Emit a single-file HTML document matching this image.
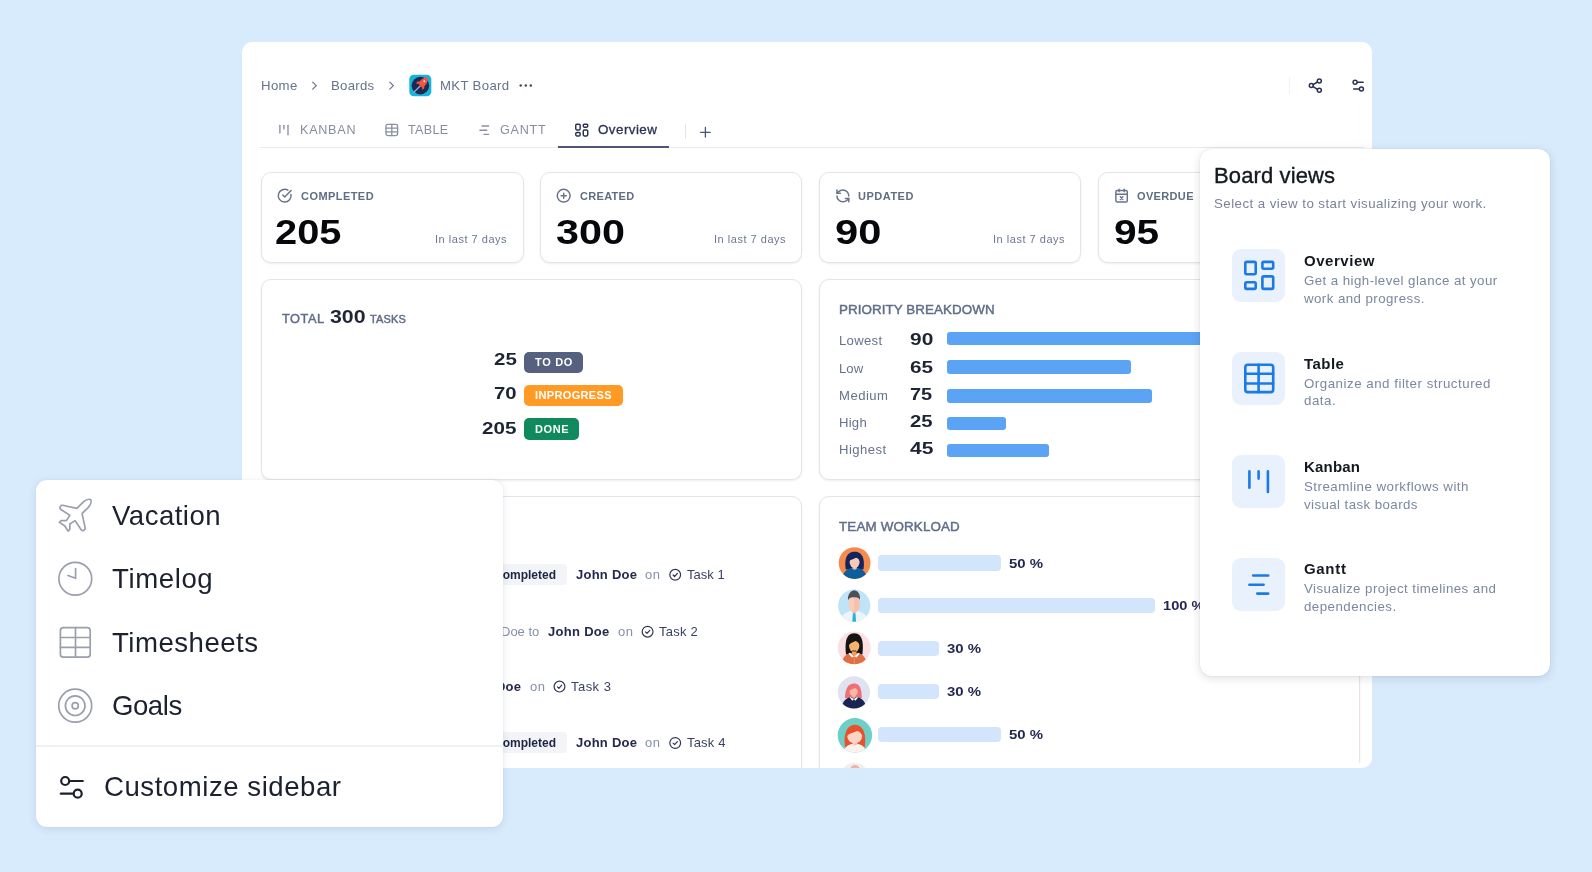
<!DOCTYPE html>
<html><head><meta charset="utf-8"><title>Board overview</title>
<style>
*{box-sizing:border-box;margin:0;padding:0}
html,body{width:1592px;height:872px;overflow:hidden}
body{background:#d8ebfd;font-family:"Liberation Sans",sans-serif;position:relative}
.t{position:absolute;white-space:nowrap;line-height:1;display:block;will-change:transform}
.abs{position:absolute}
#main{position:absolute;left:242px;top:42px;width:1130px;height:726px;background:#fff;border-radius:10px;overflow:hidden}
#main .in{position:absolute;left:-242px;top:-42px;width:1592px;height:872px}
.card{position:absolute;background:#fff;border:1px solid #e3e5e8;border-radius:10px;box-shadow:0 1px 2px rgba(20,25,35,.08)}
svg{position:absolute;overflow:visible}
.tile{left:1232.2px;width:53.1px;height:53px;border-radius:9px;background:#e8f1fc}
.pb{background:#5ba3f4;border-radius:3px}
.wb{background:#d3e5fc;border-radius:4px}
</style></head><body>
<div id="main"><div class="in">
<!-- header / tabs -->
<div class="abs" style="left:260px;top:147px;width:1104px;height:1px;background:#e9eaec"></div>
<div class="abs" style="left:558px;top:146px;width:111px;height:2px;background:#4a5578"></div>
<div class="abs" style="left:685px;top:124px;width:1px;height:15px;background:#e2e6ec"></div>
<div class="abs" style="left:1289px;top:77px;width:1px;height:17px;background:#f0f1f3"></div>
<!-- stat cards -->
<div class="card" style="left:261px;top:172px;width:262.5px;height:91px"></div>
<div class="card" style="left:539.7px;top:172px;width:262.5px;height:91px"></div>
<div class="card" style="left:818.7px;top:172px;width:262.5px;height:91px"></div>
<div class="card" style="left:1097.7px;top:172px;width:262.5px;height:91px"></div>
<svg width="1592" height="872" viewBox="0 0 1592 872" style="left:0;top:0" fill="none" stroke-linecap="round" stroke-linejoin="round">
<!-- breadcrumb chevrons -->
<path d="M312.7 82.1 L316.3 85.6 L312.7 89.1" stroke="#6b7890" stroke-width="1.3"/>
<path d="M389.8 82.1 L393.4 85.6 L389.8 89.1" stroke="#6b7890" stroke-width="1.3"/>
<!-- MKT icon -->
<rect x="409.3" y="74.7" width="22" height="21.6" rx="4.6" fill="#17b4d9"/>
<circle cx="420.4" cy="85.6" r="8.8" fill="#1b2a55"/>
<path d="M414 92.2 L420.2 86" stroke="#a9b4d4" stroke-width="1.2"/>
<path d="M427.6 77.6 C424.6 77.4 421.6 78.8 419.6 81.4 L417.4 81.6 L416 83.6 L418.4 83.8 L422 87.4 L422.2 89.8 L424.2 88.4 L424.4 86.2 C427 84.2 428.2 81 427.6 77.6 Z" fill="#ef5440"/>
<circle cx="424.3" cy="81.2" r="1" fill="#ffd9cf"/>
<!-- dots -->
<circle cx="520.7" cy="85.5" r="1.2" fill="#3b4460"/><circle cx="525.8" cy="85.5" r="1.2" fill="#3b4460"/><circle cx="530.8" cy="85.5" r="1.2" fill="#3b4460"/>
<!-- kanban tab icon -->
<g stroke="#8690a2" stroke-width="1.35"><path d="M279.9 125.3V133"/><path d="M283.9 125.3V129"/><path d="M288 125.3V134.7"/></g>
<!-- table tab icon -->
<g stroke="#8690a2" stroke-width="1.3"><rect x="386" y="124.4" width="11.6" height="11.2" rx="1.8"/><path d="M391.8 124.4V135.6M386 128.2H397.6M386 131.9H397.6"/></g>
<!-- gantt tab icon -->
<g stroke="#8690a2" stroke-width="1.35"><path d="M482 126H488.6"/><path d="M479.9 130.2H486.8"/><path d="M484 134.3H488.6"/></g>
<!-- overview tab icon -->
<g stroke="#2a3254" stroke-width="1.45"><rect x="575.75" y="124.15" width="4.4" height="5.8" rx="1.1"/><rect x="583.25" y="124.15" width="4.5" height="3" rx="1.1"/><rect x="575.75" y="132.55" width="4.4" height="3.4" rx="1.1"/><rect x="583.25" y="130.05" width="4.5" height="5.9" rx="1.1"/></g>
<!-- plus -->
<path d="M700.6 132.3H710.2M705.4 127.5V137.1" stroke="#4a5578" stroke-width="1.3"/>
<!-- share -->
<g stroke="#2a3254" stroke-width="1.5"><circle cx="1319.3" cy="81" r="2"/><circle cx="1311.3" cy="85.6" r="2"/><circle cx="1319.3" cy="90.3" r="2"/><path d="M1313.1 84.6L1317.5 82M1313.1 86.6L1317.5 89.3"/></g>
<!-- sliders -->
<g stroke="#2a3254" stroke-width="1.5"><circle cx="1355.1" cy="82.3" r="2"/><path d="M1357.6 82.3H1363.1"/><circle cx="1361.4" cy="89.1" r="2"/><path d="M1353.6 89.1H1358.9"/></g>
</svg>
<!-- stat icons -->
<svg width="15.4" height="15.4" viewBox="0 0 24 24" style="left:277.4px;top:188.2px" fill="none" stroke="#68738a" stroke-width="2.3" stroke-linecap="round" stroke-linejoin="round"><path d="M21.801 10A10 10 0 1 1 17 3.335"/><path d="m9 11 3 3L22 4"/></svg>
<svg width="15.4" height="15.4" viewBox="0 0 24 24" style="left:556px;top:188.1px" fill="none" stroke="#68738a" stroke-width="2.3" stroke-linecap="round" stroke-linejoin="round"><circle cx="12" cy="12" r="10"/><path d="M8 12h8M12 8v8"/></svg>
<svg width="15.8" height="15.8" viewBox="0 0 24 24" style="left:834.7px;top:187.9px" fill="none" stroke="#68738a" stroke-width="2.3" stroke-linecap="round" stroke-linejoin="round"><path d="M21 12a9 9 0 0 0-9-9 9.75 9.75 0 0 0-6.74 2.74L3 8"/><path d="M3 3v5h5"/><path d="M3 12a9 9 0 0 0 9 9 9.75 9.75 0 0 0 6.74-2.74L21 16"/><path d="M16 16h5v5"/></svg>
<svg width="15.2" height="15.2" viewBox="0 0 24 24" style="left:1113.85px;top:188.3px" fill="none" stroke="#68738a" stroke-width="2.3" stroke-linecap="round" stroke-linejoin="round"><path d="M8 2v4M16 2v4"/><rect x="3" y="4" width="18" height="18" rx="2"/><path d="M3 10h18M14 14l-4 4M10 14l4 4"/></svg>
<!-- lower cards -->
<div class="card" style="left:261px;top:279.3px;width:541.3px;height:200.4px"></div>
<div class="card" style="left:818.7px;top:279.3px;width:541.5px;height:201px"></div>
<div class="card" style="left:261px;top:496px;width:541.3px;height:300px"></div>
<div class="card" style="left:818.7px;top:496px;width:541.5px;height:300px"></div>
<div class="abs" style="left:1358px;top:761px;width:4px;height:8px;background:linear-gradient(rgba(255,255,255,0),#fff 40%)"></div>
<!-- status badges -->
<div class="abs" style="left:523.8px;top:351.8px;width:59.4px;height:21.2px;border-radius:5px;background:#56617f"></div>
<div class="abs" style="left:523.8px;top:385px;width:98.8px;height:21.2px;border-radius:5px;background:#ff9a24"></div>
<div class="abs" style="left:523.8px;top:418.2px;width:55.6px;height:21.4px;border-radius:5px;background:#0e8a5c"></div>
<!-- priority bars -->
<div class="abs pb" style="left:947px;top:331.5px;width:300px;height:13.7px"></div>
<div class="abs pb" style="left:947px;top:360px;width:183.6px;height:13.7px"></div>
<div class="abs pb" style="left:947px;top:389.2px;width:205.3px;height:13.6px"></div>
<div class="abs pb" style="left:947px;top:416.7px;width:58.6px;height:13.6px"></div>
<div class="abs pb" style="left:947px;top:443.7px;width:101.9px;height:13.6px"></div>
<!-- workload bars -->
<div class="abs wb" style="left:878px;top:555px;width:123px;height:15.6px"></div>
<div class="abs wb" style="left:878px;top:598.3px;width:276.7px;height:15px"></div>
<div class="abs wb" style="left:878px;top:641.3px;width:60.5px;height:15px"></div>
<div class="abs wb" style="left:878px;top:684.2px;width:60.5px;height:15px"></div>
<div class="abs wb" style="left:878px;top:727px;width:123px;height:15.2px"></div>
<!-- activity badges -->
<div class="abs" style="left:470px;top:564px;width:96.6px;height:20.8px;border-radius:4px;background:#f2f4f7"></div>
<div class="abs" style="left:470px;top:732px;width:96.6px;height:21.2px;border-radius:4px;background:#f2f4f7"></div>
<svg width="1592" height="872" viewBox="0 0 1592 872" style="left:0;top:0" fill="none" stroke="#2f3757" stroke-width="1.2" stroke-linecap="round" stroke-linejoin="round">
<g transform="translate(675.2 574.8)"><circle cx="0" cy="0" r="5.4"/><path d="M-2.1 0.2L-0.6 1.7L2.2 -1.4"/></g><g transform="translate(647.6 631.7)"><circle cx="0" cy="0" r="5.4"/><path d="M-2.1 0.2L-0.6 1.7L2.2 -1.4"/></g><g transform="translate(559.5 686.6)"><circle cx="0" cy="0" r="5.4"/><path d="M-2.1 0.2L-0.6 1.7L2.2 -1.4"/></g><g transform="translate(675.2 743)"><circle cx="0" cy="0" r="5.4"/><path d="M-2.1 0.2L-0.6 1.7L2.2 -1.4"/></g>
</svg>
<svg width="1592" height="872" viewBox="0 0 1592 872" style="left:0;top:0">
<defs>
<clipPath id="c1"><circle cx="854.6" cy="563.1" r="15.9"/></clipPath>
<clipPath id="c2"><circle cx="854.2" cy="605.7" r="16.1"/></clipPath>
<clipPath id="c3"><circle cx="854.2" cy="647.8" r="16.4"/></clipPath>
<clipPath id="c4"><circle cx="853.9" cy="692.3" r="16.1"/></clipPath>
<clipPath id="c5"><circle cx="854.9" cy="735.3" r="17.2"/></clipPath>
<clipPath id="c6"><circle cx="854.6" cy="777" r="14.2"/></clipPath>
</defs>
<!-- avatar 1 -->
<g clip-path="url(#c1)"><rect x="838" y="547" width="34" height="34" fill="#f58c4e"/>
<g transform="translate(854.6 563.1)">
<path d="M-8.8 6.4 C-10 -1 -9.6 -11.4 0 -11.4 C9.6 -11.4 10 -1 8.8 6.4 Z" fill="#15255c"/>
<path d="M-12.4 17 C-12.4 8.5 -7 5.4 -3 4.8 L3 4.8 C7 5.4 12.4 8.5 12.4 17 Z" fill="#0e5e9b"/>
<path d="M-2.2 1.5 H2.2 V5.4 C1 7 -1 7 -2.2 5.4 Z" fill="#f3b9a3"/>
<ellipse cx="0" cy="-1" rx="5" ry="5.9" fill="#f9cab8"/>
<path d="M-5.6 -1.6 C-5.6 -7.6 -1.5 -8.4 1.2 -7.4 C4 -8 5.8 -5.6 5.6 -1.6 C4.6 -3.6 3.4 -5 1.4 -5.4 C-1.6 -3.8 -4 -3.8 -5.6 -1.6 Z" fill="#15255c"/>
</g></g>
<!-- avatar 2 -->
<g clip-path="url(#c2)"><rect x="838" y="589" width="34" height="34" fill="#bfe4f8"/>
<g transform="translate(854.2 605.7)">
<path d="M-14 17 C-14 9 -8 6.6 -3.4 5.4 L3.4 5.4 C8 6.6 14 9 14 17 Z" fill="#edf4fa"/>
<path d="M-2.6 1 H2.6 V6 L0 8.6 L-2.6 6 Z" fill="#f0bda6"/>
<path d="M-1.3 7.6 L1.3 7.6 L1.9 16.5 L-1.9 16.5 Z" fill="#24b6d4"/>
<path d="M-5.4 -6 C-5.4 -10 5.4 -10 5.4 -6 V0.4 C5.4 4.6 2.4 6 0 6 C-2.4 6 -5.4 4.6 -5.4 0.4 Z" fill="#f7cebb"/>
<path d="M0 -9 C5.4 -9 5.4 -6 5.4 -6 V0.4 C5.4 4.6 2.4 6 0 6 Z" fill="#f3c2ac"/>
<path d="M-6.2 -5.4 C-6.8 -11 -3.6 -14.6 -0.4 -15.4 C3.6 -15.2 6.4 -11.6 5.8 -5.6 C5 -7.6 3.4 -8.6 0 -8.4 C-3 -8.8 -5.2 -7.6 -6.2 -5.4 Z" fill="#4c5156"/>
</g></g>
<!-- avatar 3 -->
<g clip-path="url(#c3)"><rect x="837" y="631" width="35" height="34" fill="#fbdfe2"/>
<g transform="translate(854.2 647.8)">
<path d="M-8.2 6.6 C-9.2 -2 -9.4 -14.6 0 -14.6 C9.4 -14.6 9.2 -2 8.2 6.6 Z" fill="#151515"/>
<path d="M-12.4 17 C-12.4 9.6 -7.6 6 -3.4 5 L3.4 5 C7.6 6 12.4 9.6 12.4 17 Z" fill="#e06f45"/>
<path d="M-4.6 5 L0 8.4 L-2.2 9.8 L-5.6 6 Z M4.6 5 L0 8.4 L2.2 9.8 L5.6 6 Z" fill="#fff"/>
<path d="M-0.3 8.4 H0.3 V17 H-0.3 Z" fill="#f2a07e"/>
<path d="M-2.2 1 H2.2 V6 L0 8 L-2.2 6 Z" fill="#eea45e"/>
<ellipse cx="0" cy="-2.2" rx="5.2" ry="6.4" fill="#f6b36c"/>
<path d="M-5.4 -2.6 C-5.6 -9.2 -2 -10.2 0.6 -9.4 C3.6 -10 5.8 -7.4 5.4 -2.6 C4.6 -5 3 -6.4 1.2 -6.8 C-1.6 -5.2 -3.8 -5.2 -5.4 -2.6 Z" fill="#151515"/>
<path d="M-1.6 3.2 H1.6" stroke="#1d1d1d" stroke-width="0.9" stroke-linecap="round"/>
</g></g>
<!-- avatar 4 -->
<g clip-path="url(#c4)"><rect x="837" y="676" width="34" height="34" fill="#dfe3f0"/>
<g transform="translate(853.9 692.3)">
<path d="M-9 5.8 C-8.6 1 -8 -8.8 0 -8.8 C8 -8.8 7.6 1 8 5.8 Z" fill="#ef6e78"/>
<path d="M-12.2 17 C-12.2 8.8 -7 5.6 -3 4.8 L3 4.8 C7 5.6 12.2 8.8 12.2 17 Z" fill="#1a2450"/>
<path d="M-3.4 4.4 L0 7 L-1.6 8.4 L-4 5.4 Z M3.4 4.4 L0 7 L1.6 8.4 L4 5.4 Z" fill="#fff"/>
<path d="M-1.8 1.6 H1.8 V5 L0 6.8 L-1.8 5 Z" fill="#f4a897"/>
<ellipse cx="-0.2" cy="-1" rx="4.2" ry="5" fill="#f8b8a7"/>
<path d="M-4.6 -1.4 C-4.8 -6.4 -1.4 -7 0.6 -6.4 C3 -6.8 4.6 -4.6 4.2 -1.4 C3.4 -3.2 2.6 -4 1 -4.4 C-1.2 -3.2 -3.2 -3.2 -4.6 -1.4 Z" fill="#ef6e78"/>
</g></g>
<!-- avatar 5 -->
<g clip-path="url(#c5)"><rect x="837" y="718" width="36" height="35" fill="#6ecfc6"/>
<g transform="translate(854.9 735.3)">
<path d="M-9.4 13 C-11.6 4 -10.4 -10.6 0 -10.6 C10.4 -10.6 11.6 4 9.4 13 Z" fill="#e8512b"/>
<path d="M-11 18 C-11 11 -6 9 -3 8.6 L3 8.6 C6 9 11 11 11 18 Z" fill="#fdf1ec"/>
<path d="M-2.4 5 H2.4 V9 C1.2 10.6 -1.2 10.6 -2.4 9 Z" fill="#f8c6b2"/>
<ellipse cx="-0.2" cy="1" rx="7.4" ry="7" fill="#fcd6c4"/>
<path d="M-7.8 0.6 C-8.2 -6.6 -3 -8 0.4 -6.8 C4.4 -7.8 8 -5 7.4 0.6 C6.2 -2.4 4.6 -4 2.2 -4.4 C-1 -2.6 -5 -2.8 -7.8 0.6 Z" fill="#e8512b"/>
</g></g>
<!-- avatar 6 -->
<g clip-path="url(#c6)"><rect x="838" y="762" width="36" height="36" fill="#f1eeee"/>
<ellipse cx="855" cy="769" rx="4.6" ry="4" fill="#e6b8a2"/></g>
</svg>

<span class="t" style="left:261.00px;top:78.83px;font-size:13.2px;color:#66738c;font-weight:400;letter-spacing:0.371px;">Home</span>
<span class="t" style="left:331.40px;top:78.83px;font-size:13.2px;color:#66738c;font-weight:400;letter-spacing:0.281px;">Boards</span>
<span class="t" style="left:440.20px;top:78.83px;font-size:13.2px;color:#66738c;font-weight:400;letter-spacing:0.331px;">MKT Board</span>
<span class="t" style="left:300.30px;top:123.93px;font-size:12.6px;color:#858d9f;font-weight:400;letter-spacing:0.741px;">KANBAN</span>
<span class="t" style="left:408.40px;top:123.93px;font-size:12.6px;color:#858d9f;font-weight:400;letter-spacing:0.308px;">TABLE</span>
<span class="t" style="left:500.30px;top:123.93px;font-size:12.6px;color:#858d9f;font-weight:400;letter-spacing:0.753px;">GANTT</span>
<span class="t" style="left:598.00px;top:123.26px;font-size:13.4px;color:#2a3254;font-weight:400;letter-spacing:0.441px;-webkit-text-stroke:0.3px #2a3254;">Overview</span>
<span class="t" style="left:301.00px;top:190.89px;font-size:11px;color:#5f6d85;font-weight:700;letter-spacing:0.442px;">COMPLETED</span>
<span class="t" style="left:274.60px;top:214.80px;font-size:34.5px;color:#06080c;font-weight:700;transform:scaleX(1.1535);transform-origin:0 0;">205</span>
<span class="t" style="left:435.40px;top:233.69px;font-size:11px;color:#6b7890;font-weight:400;letter-spacing:0.521px;">In last 7 days</span>
<span class="t" style="left:579.80px;top:190.89px;font-size:11px;color:#5f6d85;font-weight:700;letter-spacing:0.307px;">CREATED</span>
<span class="t" style="left:556.00px;top:214.80px;font-size:34.5px;color:#06080c;font-weight:700;transform:scaleX(1.1970);transform-origin:0 0;">300</span>
<span class="t" style="left:714.20px;top:233.69px;font-size:11px;color:#6b7890;font-weight:400;letter-spacing:0.521px;">In last 7 days</span>
<span class="t" style="left:858.40px;top:190.89px;font-size:11px;color:#5f6d85;font-weight:700;letter-spacing:0.507px;">UPDATED</span>
<span class="t" style="left:834.60px;top:214.80px;font-size:34.5px;color:#06080c;font-weight:700;transform:scaleX(1.2065);transform-origin:0 0;">90</span>
<span class="t" style="left:993.20px;top:233.69px;font-size:11px;color:#6b7890;font-weight:400;letter-spacing:0.521px;">In last 7 days</span>
<span class="t" style="left:1137.40px;top:190.89px;font-size:11px;color:#5f6d85;font-weight:700;letter-spacing:0.349px;">OVERDUE</span>
<span class="t" style="left:1113.90px;top:214.80px;font-size:34.5px;color:#06080c;font-weight:700;transform:scaleX(1.1779);transform-origin:0 0;">95</span>
<span class="t" style="left:1272.20px;top:233.69px;font-size:11px;color:#6b7890;font-weight:400;letter-spacing:0.521px;">In last 7 days</span>
<span class="t" style="left:281.50px;top:312.76px;font-size:12.8px;color:#5f6d88;font-weight:400;letter-spacing:0.534px;-webkit-text-stroke:0.45px #5f6d88;">TOTAL</span>
<span class="t" style="left:330.00px;top:307.62px;font-size:18.4px;color:#1d2433;font-weight:700;transform:scaleX(1.1601);transform-origin:0 0;">300</span>
<span class="t" style="left:370.40px;top:313.59px;font-size:11px;color:#5f6d88;font-weight:400;letter-spacing:0.134px;-webkit-text-stroke:0.45px #5f6d88;">TASKS</span>
<span class="t" style="left:494.20px;top:350.84px;font-size:17.2px;color:#1d2433;font-weight:700;transform:scaleX(1.1922);transform-origin:0 0;">25</span>
<span class="t" style="left:494.40px;top:384.74px;font-size:17.2px;color:#1d2433;font-weight:700;transform:scaleX(1.1817);transform-origin:0 0;">70</span>
<span class="t" style="left:482.40px;top:419.74px;font-size:17.2px;color:#1d2433;font-weight:700;transform:scaleX(1.1991);transform-origin:0 0;">205</span>
<span class="t" style="left:534.80px;top:357.09px;font-size:11px;color:#ffffff;font-weight:700;letter-spacing:0.690px;">TO DO</span>
<span class="t" style="left:534.80px;top:390.29px;font-size:11px;color:#ffffff;font-weight:700;letter-spacing:0.360px;">INPROGRESS</span>
<span class="t" style="left:534.80px;top:423.69px;font-size:11px;color:#ffffff;font-weight:700;letter-spacing:0.606px;">DONE</span>
<span class="t" style="left:839.00px;top:303.06px;font-size:13.4px;color:#5f6d88;font-weight:400;letter-spacing:0.070px;-webkit-text-stroke:0.45px #5f6d88;">PRIORITY BREAKDOWN</span>
<span class="t" style="left:839.30px;top:334.41px;font-size:13.1px;color:#66738c;font-weight:400;letter-spacing:0.320px;">Lowest</span>
<span class="t" style="left:909.80px;top:331.06px;font-size:17.3px;color:#1d2433;font-weight:700;transform:scaleX(1.2114);transform-origin:0 0;">90</span>
<span class="t" style="left:839.30px;top:361.51px;font-size:13.1px;color:#66738c;font-weight:400;letter-spacing:0.034px;">Low</span>
<span class="t" style="left:909.80px;top:359.46px;font-size:17.3px;color:#1d2433;font-weight:700;transform:scaleX(1.2010);transform-origin:0 0;">65</span>
<span class="t" style="left:839.30px;top:389.11px;font-size:13.1px;color:#66738c;font-weight:400;letter-spacing:0.484px;">Medium</span>
<span class="t" style="left:909.80px;top:385.56px;font-size:17.3px;color:#1d2433;font-weight:700;transform:scaleX(1.1542);transform-origin:0 0;">75</span>
<span class="t" style="left:839.30px;top:416.31px;font-size:13.1px;color:#66738c;font-weight:400;letter-spacing:0.254px;">High</span>
<span class="t" style="left:909.80px;top:412.76px;font-size:17.3px;color:#1d2433;font-weight:700;transform:scaleX(1.1750);transform-origin:0 0;">25</span>
<span class="t" style="left:839.30px;top:443.41px;font-size:13.1px;color:#66738c;font-weight:400;letter-spacing:0.449px;">Highest</span>
<span class="t" style="left:909.80px;top:439.76px;font-size:17.3px;color:#1d2433;font-weight:700;transform:scaleX(1.2166);transform-origin:0 0;">45</span>
<span class="t" style="left:839.20px;top:519.66px;font-size:13.4px;color:#5f6d88;font-weight:400;letter-spacing:0.146px;-webkit-text-stroke:0.45px #5f6d88;">TEAM WORKLOAD</span>
<span class="t" style="left:1008.80px;top:556.59px;font-size:13.6px;color:#1f2750;font-weight:700;transform:scaleX(1.1006);transform-origin:0 0;">50 %</span>
<span class="t" style="left:1162.90px;top:599.49px;font-size:13.6px;color:#1f2750;font-weight:700;transform:scaleX(1.0766);transform-origin:0 0;">100 %</span>
<span class="t" style="left:947.20px;top:642.49px;font-size:13.6px;color:#1f2750;font-weight:700;transform:scaleX(1.1006);transform-origin:0 0;">30 %</span>
<span class="t" style="left:947.20px;top:685.39px;font-size:13.6px;color:#1f2750;font-weight:700;transform:scaleX(1.1006);transform-origin:0 0;">30 %</span>
<span class="t" style="left:1008.80px;top:728.29px;font-size:13.6px;color:#1f2750;font-weight:700;transform:scaleX(1.1006);transform-origin:0 0;">50 %</span>
<span class="t" style="left:494.10px;top:568.64px;font-size:12px;color:#1e2540;font-weight:700;">Completed</span>
<span class="t" style="left:575.70px;top:568.10px;font-size:13px;color:#232a4d;font-weight:700;letter-spacing:0.252px;">John Doe</span>
<span class="t" style="left:645.00px;top:568.10px;font-size:13px;color:#8590a5;font-weight:400;letter-spacing:0.631px;">on</span>
<span class="t" style="left:686.50px;top:568.10px;font-size:13px;color:#3a4260;font-weight:400;letter-spacing:0.024px;">Task 1</span>
<span class="t" style="left:494.10px;top:736.94px;font-size:12px;color:#1e2540;font-weight:700;">Completed</span>
<span class="t" style="left:575.70px;top:736.40px;font-size:13px;color:#232a4d;font-weight:700;letter-spacing:0.252px;">John Doe</span>
<span class="t" style="left:645.00px;top:736.40px;font-size:13px;color:#8590a5;font-weight:400;letter-spacing:0.631px;">on</span>
<span class="t" style="left:686.50px;top:736.40px;font-size:13px;color:#3a4260;font-weight:400;letter-spacing:0.184px;">Task 4</span>
<span class="t" style="left:500.70px;top:625.40px;font-size:13px;color:#8590a5;font-weight:400;">Doe to</span>
<span class="t" style="left:547.80px;top:625.40px;font-size:13px;color:#232a4d;font-weight:700;letter-spacing:0.295px;">John Doe</span>
<span class="t" style="left:617.90px;top:625.40px;font-size:13px;color:#8590a5;font-weight:400;letter-spacing:0.631px;">on</span>
<span class="t" style="left:659.30px;top:625.40px;font-size:13px;color:#3a4260;font-weight:400;letter-spacing:0.244px;">Task 2</span>
<span class="t" style="left:460.30px;top:680.30px;font-size:13px;color:#232a4d;font-weight:700;letter-spacing:0.252px;">John Doe</span>
<span class="t" style="left:529.90px;top:680.30px;font-size:13px;color:#8590a5;font-weight:400;letter-spacing:0.631px;">on</span>
<span class="t" style="left:571.20px;top:680.30px;font-size:13px;color:#3a4260;font-weight:400;letter-spacing:0.464px;">Task 3</span>
</div></div>

<!-- left popup -->
<div class="abs" style="left:35.8px;top:479.9px;width:466.8px;height:346.9px;background:#fff;border-radius:11px;box-shadow:0 2px 9px rgba(30,50,90,.11),0 0 2px rgba(30,50,90,.08)"></div>
<div class="abs" style="left:35.8px;top:745.3px;width:466.8px;height:2px;background:#f0f1f4"></div>
<svg width="1592" height="872" viewBox="0 0 1592 872" style="left:0;top:0" fill="none" stroke="#9b9fad" stroke-width="1.7" stroke-linecap="round" stroke-linejoin="round">
<g transform="translate(54.2 494.5) scale(1.74)" stroke-width="0.98"><path d="M17.8 19.2 16 11l3.5-3.5C21 6 21.5 4 21 3c-1-.5-3 0-4.500 1.500L13 8 4.800 6.200c-.5-.1-.9.1-1.100.5l-.3.5c-.2.5-.1 1 .3 1.300L9 12l-2 3H4l-1 1 3 2 2 3 1-1v-3l3-2 3.500 5.300c.3.4.8.5 1.300.3l.5-.2c.4-.3.6-.7.5-1.200z"/></g>
<circle cx="75.3" cy="578.8" r="16.4"/><path d="M75.6 568.6V578.3L68 575.5"/>
<rect x="60.4" y="627.7" width="29.8" height="29.5" rx="3"/><path d="M75.5 627.7V657.2M60.4 637.5H90.2M60.4 647.4H90.2"/>
<circle cx="75.2" cy="705.7" r="16.5"/><circle cx="75.2" cy="705.7" r="9.8"/><circle cx="75.2" cy="705.7" r="3.1"/>
<g stroke="#1c2130" stroke-width="2.2"><circle cx="65.2" cy="781" r="4"/><path d="M70.6 781H82.8"/><circle cx="77.7" cy="793.7" r="4"/><path d="M60.8 793.7H72.3"/></g>
</svg>
<span class="t" style="left:112.20px;top:501.94px;font-size:27.6px;color:#1c2130;font-weight:400;letter-spacing:0.465px;">Vacation</span>
<span class="t" style="left:112.00px;top:565.24px;font-size:27.6px;color:#1c2130;font-weight:400;letter-spacing:0.596px;">Timelog</span>
<span class="t" style="left:112.30px;top:628.64px;font-size:27.6px;color:#1c2130;font-weight:400;letter-spacing:0.490px;">Timesheets</span>
<span class="t" style="left:112.30px;top:692.24px;font-size:27.6px;color:#1c2130;font-weight:400;letter-spacing:-0.473px;">Goals</span>
<span class="t" style="left:104.00px;top:773.34px;font-size:27.6px;color:#1c2130;font-weight:400;letter-spacing:0.530px;">Customize sidebar</span>
<!-- board views popup -->
<div class="abs" style="left:1200px;top:148.8px;width:349.7px;height:527.4px;background:#fff;border-radius:12px;box-shadow:0 2px 10px rgba(20,25,40,.14),0 0 2px rgba(20,25,40,.10)"></div>
<div class="abs tile" style="top:248.8px"></div>
<div class="abs tile" style="top:352.2px"></div>
<div class="abs tile" style="top:454.6px"></div>
<div class="abs tile" style="top:558px"></div>
<svg width="1592" height="872" viewBox="0 0 1592 872" style="left:0;top:0" fill="none" stroke="#1a7be6" stroke-width="2.6" stroke-linecap="round" stroke-linejoin="round">
<rect x="1245.3" y="261.9" width="10.4" height="12.3" rx="1.4"/><rect x="1262.4" y="261.9" width="10.8" height="6.8" rx="1.4"/><rect x="1245.3" y="282.2" width="10.4" height="6.7" rx="1.4"/><rect x="1262.4" y="276.4" width="10.8" height="12.5" rx="1.4"/>
<rect x="1245.3" y="364.8" width="27.9" height="27.3" rx="2.6"/><path d="M1258.6 364.8V392.1M1245.3 373.8H1273.2M1245.3 383.5H1273.2"/>
<path d="M1249.4 471.4V487.8M1258.6 471.4V478.6M1267.9 471.4V492"/>
<path d="M1253.2 575.5H1268.2M1249.4 584.8H1263.6M1257.3 593.6H1268.2"/>
</svg>
<span class="t" style="left:1214.40px;top:164.68px;font-size:22px;color:#14181f;font-weight:400;letter-spacing:0.116px;-webkit-text-stroke:0.35px #14181f;">Board views</span>
<span class="t" style="left:1214.40px;top:197.14px;font-size:13.3px;color:#79849a;font-weight:400;letter-spacing:0.444px;">Select a view to start visualizing your work.</span>
<span class="t" style="left:1303.80px;top:253.10px;font-size:15px;color:#14181f;font-weight:700;letter-spacing:0.540px;">Overview</span>
<span class="t" style="left:1303.80px;top:274.14px;font-size:13.3px;color:#7a88a0;font-weight:400;letter-spacing:0.428px;">Get a high-level glance at your</span>
<span class="t" style="left:1303.80px;top:291.84px;font-size:13.3px;color:#7a88a0;font-weight:400;letter-spacing:0.431px;">work and progress.</span>
<span class="t" style="left:1303.80px;top:355.60px;font-size:15px;color:#14181f;font-weight:700;letter-spacing:0.455px;">Table</span>
<span class="t" style="left:1303.80px;top:376.64px;font-size:13.3px;color:#7a88a0;font-weight:400;letter-spacing:0.515px;">Organize and filter structured</span>
<span class="t" style="left:1303.80px;top:394.34px;font-size:13.3px;color:#7a88a0;font-weight:400;letter-spacing:0.505px;">data.</span>
<span class="t" style="left:1303.80px;top:458.90px;font-size:15px;color:#14181f;font-weight:700;letter-spacing:0.197px;">Kanban</span>
<span class="t" style="left:1303.80px;top:479.94px;font-size:13.3px;color:#7a88a0;font-weight:400;letter-spacing:0.476px;">Streamline workflows with</span>
<span class="t" style="left:1303.80px;top:497.64px;font-size:13.3px;color:#7a88a0;font-weight:400;letter-spacing:0.415px;">visual task boards</span>
<span class="t" style="left:1303.80px;top:561.30px;font-size:15px;color:#14181f;font-weight:700;letter-spacing:0.682px;">Gantt</span>
<span class="t" style="left:1303.80px;top:582.34px;font-size:13.3px;color:#7a88a0;font-weight:400;letter-spacing:0.443px;">Visualize project timelines and</span>
<span class="t" style="left:1303.80px;top:600.04px;font-size:13.3px;color:#7a88a0;font-weight:400;letter-spacing:0.474px;">dependencies.</span>
</body></html>
